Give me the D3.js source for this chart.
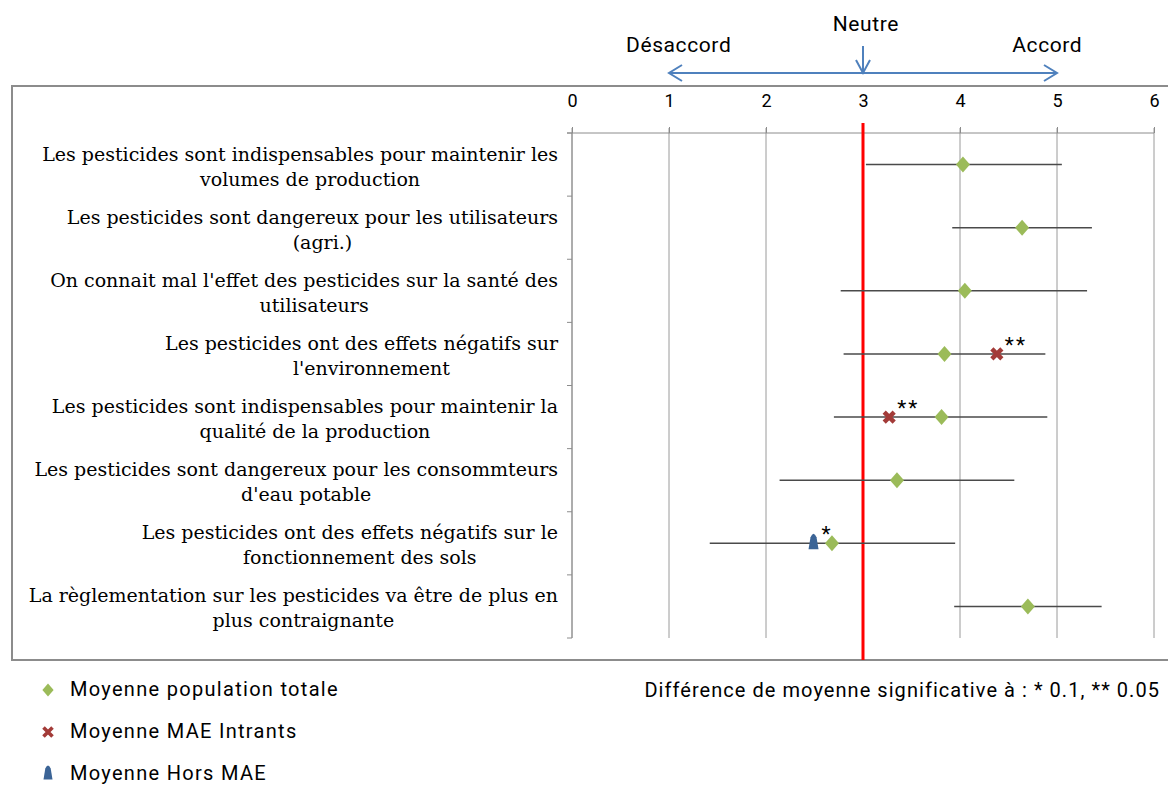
<!DOCTYPE html>
<html><head><meta charset="utf-8">
<script src="https://cdn.jsdelivr.net/npm/d3@7"></script>
<style>body{margin:0;background:#fff}</style>
</head><body>
<svg id="c" width="1168" height="785"></svg>
<script>
const categories = [
  ["Les pesticides sont indispensables pour maintenir les", "volumes de production"],
  ["Les pesticides sont dangereux pour les utilisateurs", "(agri.)"],
  ["On connait mal l'effet des pesticides sur la santé des", "utilisateurs"],
  ["Les pesticides ont des effets négatifs sur", "l'environnement"],
  ["Les pesticides sont indispensables pour maintenir la", "qualité de la production"],
  ["Les pesticides sont dangereux pour les consommteurs", "d'eau potable"],
  ["Les pesticides ont des effets négatifs sur le", "fonctionnement des sols"],
  ["La règlementation sur les pesticides va être de plus en", "plus contraignante"]
];
const meanTotal    = [4.03, 4.64, 4.05, 3.84, 3.81, 3.35, 2.68, 4.70];
const barLow       = [3.03, 3.92, 2.77, 2.80, 2.70, 2.14, 1.42, 3.94];
const barHigh      = [5.05, 5.36, 5.31, 4.88, 4.90, 4.56, 3.95, 5.46];
const meanIntrants = [null, null, null, 4.38, 3.27, null, null, null];
const meanHors     = [null, null, null, null, null, null, 2.49, null];
const signif       = ["", "", "", "**", "**", "", "*", ""];
const xTicks = [0, 1, 2, 3, 4, 5, 6];
const neutralValue = 3;
const scaleLabels = [{t:"Désaccord", v:1.1}, {t:"Neutre", v:3.03}, {t:"Accord", v:4.9}];
const legendItems = ["Moyenne population totale", "Moyenne MAE Intrants", "Moyenne Hors MAE"];
const noteText = "Différence de moyenne significative à : * 0.1, ** 0.05";

const svg = d3.select("#c");
const x = d3.scaleLinear().domain([0, 6]).range([572, 1154]);
const idx = d3.range(categories.length);
const y = d3.scaleBand().domain(idx).range([133, 638]);
const sans = "'Roboto',sans-serif";
const serif = "'DejaVu Serif',serif";
const green = "#9BBB59", red = "#A33B38", blue = "#3B6496", arrowBlue = "#4F81BD";

// chart box
svg.append("rect").attr("x", 12).attr("y", 86).attr("width", 1160).attr("height", 574)
  .attr("fill", "none").attr("stroke", "#8c8c8c").attr("stroke-width", 2);

// gridlines
svg.append("g").selectAll("line").data(xTicks).join("line")
  .attr("x1", d => x(d)).attr("x2", d => x(d)).attr("y1", 128).attr("y2", 638)
  .attr("stroke", "#9a9a9a").attr("stroke-width", 1);

// top axis
const xAxis = d3.axisTop(x).tickValues(xTicks).tickSize(6).tickPadding(20).tickFormat(d3.format("d"));
const gx = svg.append("g").attr("transform", "translate(0,133)").call(xAxis);
gx.select(".domain").attr("stroke", "#8c8c8c").attr("d", "M" + (x(0) - 5) + ",0H" + x(6));
gx.selectAll(".tick line").attr("stroke", "#8c8c8c");
gx.selectAll("text").attr("font-family", sans).attr("font-size", 18).attr("fill", "#000");

// left axis (ticks at band boundaries)
const bounds = d3.range(categories.length + 1).map(i => 133 + i * y.step());
svg.append("line").attr("x1", x(0)).attr("x2", x(0)).attr("y1", 133).attr("y2", 638).attr("stroke", "#8c8c8c");
svg.append("g").selectAll("line").data(bounds).join("line")
  .attr("x1", x(0) - 5).attr("x2", x(0)).attr("y1", d => d).attr("y2", d => d).attr("stroke", "#8c8c8c");

// category labels
const lab = svg.append("g").attr("font-family", serif).attr("font-size", 19).attr("fill", "#000");
idx.forEach(i => {
  const cy = y(i) + y.bandwidth() / 2;
  const t1 = lab.append("text").attr("x", 558).attr("y", cy - 4).attr("text-anchor", "end").text(categories[i][0]);
  const w = t1.node().getComputedTextLength();
  lab.append("text").attr("x", 558 - w / 2 + 10).attr("y", cy + 21).attr("text-anchor", "middle").text(categories[i][1]);
});

// red neutral line
svg.append("line").attr("x1", x(neutralValue)).attr("x2", x(neutralValue)).attr("y1", 123).attr("y2", 660)
  .attr("stroke", "#ff0000").attr("stroke-width", 3);

// error bars
svg.append("g").selectAll("line").data(idx).join("line")
  .attr("x1", i => x(barLow[i])).attr("x2", i => x(barHigh[i]))
  .attr("y1", i => y(i) + y.bandwidth() / 2).attr("y2", i => y(i) + y.bandwidth() / 2)
  .attr("stroke", "#4a4a4a").attr("stroke-width", 1.6);

const diamond = "M0,-8L7,0L0,8L-7,0Z";
const cross = "M-5,-5L5,5M5,-5L-5,5";
const tri = "M-5,6L-3,-6Q0,-13 3,-6L5,6Z";

svg.append("g").selectAll("path").data(idx).join("path")
  .attr("d", diamond).attr("fill", green)
  .attr("transform", i => `translate(${x(meanTotal[i])},${y(i) + y.bandwidth() / 2})`);
svg.append("g").selectAll("path").data(idx.filter(i => meanIntrants[i] != null)).join("path")
  .attr("d", cross).attr("fill", "none").attr("stroke", red).attr("stroke-width", 4.5)
  .attr("transform", i => `translate(${x(meanIntrants[i])},${y(i) + y.bandwidth() / 2})`);
svg.append("g").selectAll("path").data(idx.filter(i => meanHors[i] != null)).join("path")
  .attr("d", tri).attr("fill", blue)
  .attr("transform", i => `translate(${x(meanHors[i])},${y(i) + y.bandwidth() / 2})`);

// significance stars
svg.append("g").selectAll("text").data(idx.filter(i => signif[i])).join("text")
  .attr("x", i => x(meanIntrants[i] != null ? meanIntrants[i] : meanHors[i]) + 8)
  .attr("y", i => y(i) + y.bandwidth() / 2 - 2)
  .attr("font-family", sans).attr("font-size", 21).attr("letter-spacing", 2).text(i => signif[i]);

// top scale annotation
const ay = 73;
svg.append("line").attr("x1", x(1)).attr("x2", x(5)).attr("y1", ay).attr("y2", ay)
  .attr("stroke", arrowBlue).attr("stroke-width", 2);
svg.append("path").attr("d", `M${x(1) + 13},${ay - 8}L${x(1)},${ay}L${x(1) + 13},${ay + 8}`)
  .attr("fill", "none").attr("stroke", arrowBlue).attr("stroke-width", 2);
svg.append("path").attr("d", `M${x(5) - 13},${ay - 8}L${x(5)},${ay}L${x(5) - 13},${ay + 8}`)
  .attr("fill", "none").attr("stroke", arrowBlue).attr("stroke-width", 2);
svg.append("line").attr("x1", x(3)).attr("x2", x(3)).attr("y1", 46).attr("y2", ay)
  .attr("stroke", arrowBlue).attr("stroke-width", 2);
svg.append("path").attr("d", `M${x(3) - 7},${ay - 13}L${x(3)},${ay}L${x(3) + 7},${ay - 13}`)
  .attr("fill", "none").attr("stroke", arrowBlue).attr("stroke-width", 2);
svg.append("g").selectAll("text").data(scaleLabels).join("text")
  .attr("x", d => x(d.v)).attr("y", (d, i) => i === 1 ? 31 : 52)
  .attr("text-anchor", "middle").attr("font-family", sans).attr("font-size", 21)
  .attr("letter-spacing", 0.6).text(d => d.t);

// legend
const lg = svg.append("g").attr("font-family", sans).attr("font-size", 20).attr("letter-spacing", 1.3);
const legendShapes = [{d: diamond, c: green, s: 0.8, st: false}, {d: cross, c: red, s: 0.9, st: true}, {d: tri, c: blue, s: 0.9, st: false}];
legendItems.forEach((t, i) => {
  const ly = 690 + i * 42;
  lg.append("path").attr("d", legendShapes[i].d)
    .attr("fill", legendShapes[i].st ? "none" : legendShapes[i].c)
    .attr("stroke", legendShapes[i].st ? legendShapes[i].c : "none").attr("stroke-width", 4)
    .attr("transform", `translate(48,${ly}) scale(${legendShapes[i].s})`);
  lg.append("text").attr("x", 70).attr("y", ly + 6).text(t);
});
lg.append("text").attr("x", 1160).attr("y", 697).attr("text-anchor", "end").attr("letter-spacing", 1.05).text(noteText);
</script>
</body></html>
